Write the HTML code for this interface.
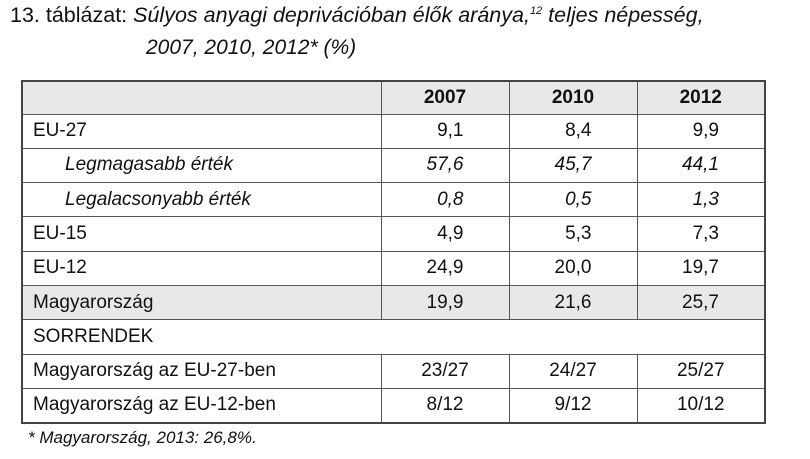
<!DOCTYPE html>
<html><head><meta charset="utf-8"><style>
body{margin:0;width:810px;height:459px;background:#fff;font-family:"Liberation Sans",sans-serif;color:#111;position:relative;overflow:hidden}
.t1{position:absolute;left:10px;top:3px;font-size:21.5px;white-space:nowrap}
.t2{position:absolute;left:146px;top:36px;font-size:21px;font-style:italic;white-space:nowrap}
table{position:absolute;left:21px;top:80px;border-collapse:collapse;border:2px solid #444;font-size:19px}
td{border:1.5px solid #555;height:34.3px;padding:0;box-sizing:border-box}
td.l{width:359px;padding-left:10px}
td.v{width:128px;text-align:right;padding-right:45px}
td.c{width:128px;text-align:center}
tr.h td{background:#e8e8e8;font-weight:bold;text-align:center;height:33px}
tr.g td{background:#e8e8e8}
.i{font-style:italic}
td.ind{padding-left:42px;font-style:italic}
.fn{position:absolute;left:28px;top:428px;font-size:17px;font-style:italic}
</style></head><body>
<div class="t1">13. táblázat: <i>Súlyos anyagi deprivációban élők aránya,<sup style="font-size:11px">12</sup> teljes népesség,</i></div>
<div class="t2">2007, 2010, 2012* (%)</div>
<table>
<tr class="h"><td class="l"></td><td class="c">2007</td><td class="c">2010</td><td class="c">2012</td></tr>
<tr><td class="l">EU-27</td><td class="v">9,1</td><td class="v">8,4</td><td class="v">9,9</td></tr>
<tr class="i"><td class="l ind">Legmagasabb érték</td><td class="v">57,6</td><td class="v">45,7</td><td class="v">44,1</td></tr>
<tr class="i"><td class="l ind">Legalacsonyabb érték</td><td class="v">0,8</td><td class="v">0,5</td><td class="v">1,3</td></tr>
<tr><td class="l">EU-15</td><td class="v">4,9</td><td class="v">5,3</td><td class="v">7,3</td></tr>
<tr><td class="l">EU-12</td><td class="v">24,9</td><td class="v">20,0</td><td class="v">19,7</td></tr>
<tr class="g"><td class="l">Magyarország</td><td class="v">19,9</td><td class="v">21,6</td><td class="v">25,7</td></tr>
<tr><td class="l" colspan="4">SORRENDEK</td></tr>
<tr><td class="l">Magyarország az EU-27-ben</td><td class="c">23/27</td><td class="c">24/27</td><td class="c">25/27</td></tr>
<tr><td class="l">Magyarország az EU-12-ben</td><td class="c">8/12</td><td class="c">9/12</td><td class="c">10/12</td></tr>
</table>
<div class="fn">* Magyarország, 2013: 26,8%.</div>
</body></html>
